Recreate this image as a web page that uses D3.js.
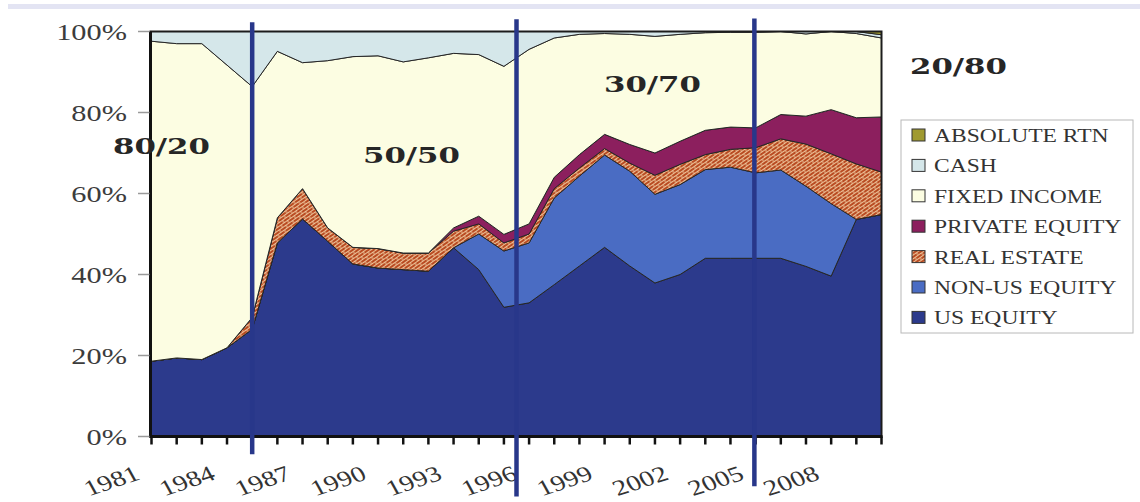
<!DOCTYPE html>
<html><head><meta charset="utf-8">
<script src="https://cdn.jsdelivr.net/npm/d3@7/dist/d3.min.js"></script>
<style>body{margin:0;background:#fff;} svg{display:block}</style>
</head><body>
<svg id="c" width="1140" height="502"></svg>
<script>
// ---------- data ----------
const years = [1981,1982,1983,1984,1985,1986,1987,1988,1989,1990,1991,1992,1993,1994,1995,1996,1997,1998,1999,2000,2001,2002,2003,2004,2005,2006,2007,2008,2009,2010];
const usEquity       = [18.6,19.4,19.0,21.9,26.5,47.8,53.7,48.2,42.6,41.6,41.2,40.8,46.6,41.2,31.9,33.0,37.5,42.1,46.7,42.1,37.9,40.0,44.0,44.0,44.0,44.0,42.0,39.6,53.6,54.8];
const nonUsEquity    = [0,0,0,0,0,0,0,0,0,0,0,0,0,8.8,13.9,14.8,21.4,22.2,22.8,23.4,21.9,22.2,21.9,22.5,21.1,21.8,19.8,17.9,0,0];
const realEstate     = [0,0,0,0,2.9,6.2,7.5,3.3,4.1,4.8,4.1,4.5,4.1,2.5,2.0,2.2,2.3,2.0,1.6,2.0,4.7,5.0,3.7,4.4,6.2,7.7,10.4,12.3,13.7,10.5];
const privateEquity  = [0,0,0,0,0,0,0,0,0,0,0,0,0.8,1.9,2.1,2.5,2.8,3.3,3.5,4.6,5.5,5.7,6.0,5.5,4.9,6.0,6.9,10.9,11.4,13.6];
const fixedIncome    = [79.0,77.6,78.0,69.8,57.0,41.1,31.1,41.3,47.1,47.6,47.2,48.2,43.1,39.9,41.5,43.1,34.4,29.7,24.9,27.2,28.8,26.4,24.1,23.4,23.6,20.5,20.3,19.3,20.8,19.5];
const cash           = [2.4,3.0,3.0,8.3,13.6,4.9,7.7,7.2,6.2,6.0,7.5,6.5,5.4,5.7,8.6,4.4,1.6,0.7,0.5,0.7,1.2,0.7,0.3,0.2,0.2,0,0.6,0,0.5,0.8];
const absoluteReturn = [0,0,0,0,0,0,0,0,0,0,0,0,0,0,0,0,0,0,0,0,0,0,0,0,0,0,0,0,0,0.8];

const seriesNames = ["US EQUITY","NON-US EQUITY","REAL ESTATE","PRIVATE EQUITY","FIXED INCOME","CASH","ABSOLUTE RTN"];
const seriesValues = [usEquity,nonUsEquity,realEstate,privateEquity,fixedIncome,cash,absoluteReturn];
const yTicks = [0,20,40,60,80,100];
const xTickLabels = [1981,1984,1987,1990,1993,1996,1999,2002,2005,2008];
const dividerYears = [1985,1995.5,2004.95];
const regimeLabels = ["80/20","50/50","30/70","20/80"];

// ---------- styles ----------
const fills = {
  "US EQUITY":"#2c3a8c","NON-US EQUITY":"#4a6cc3","REAL ESTATE":"url(#brick)",
  "PRIVATE EQUITY":"#8c1f5e","FIXED INCOME":"#fcfde2","CASH":"#d5e7ea","ABSOLUTE RTN":"#a09a30"
};

const svg = d3.select("#c");
const defs = svg.append("defs");
const pat = defs.append("pattern").attr("id","brick").attr("width",8).attr("height",6)
  .attr("patternUnits","userSpaceOnUse").attr("patternTransform","rotate(-35)");
pat.append("rect").attr("width",8).attr("height",6).attr("fill","#b94b22");
pat.append("path").attr("d","M0,0.5H8M0,3.5H8M1,0.5V3.5M5,3.5V6.5")
  .attr("stroke","#f0cda4").attr("stroke-width",0.9).attr("fill","none");

// top lavender band
svg.append("rect").attr("x",8).attr("y",4).attr("width",1132).attr("height",5).attr("fill","#e3e4f3");

const x = d3.scaleLinear().domain([1981,2010]).range([151.5,881.5]);
const y = d3.scaleLinear().domain([0,100]).range([436.5,31.5]);

const table = years.map((yr,i)=>{
  const o={year:yr};
  seriesNames.forEach((n,k)=>o[n]=seriesValues[k][i]);
  return o;
});
const stacked = d3.stack().keys(seriesNames)(table);
const area = d3.area().x(d=>x(d.data.year)).y0(d=>y(d[0])).y1(d=>y(d[1]));

svg.append("g").selectAll("path").data(stacked).join("path")
  .attr("d",area).attr("fill",d=>fills[d.key])
  .attr("stroke","#262626").attr("stroke-width",1).attr("stroke-linejoin","round");

// frame
svg.append("rect").attr("x",x(1981)-1).attr("y",y(100)).attr("width",x(2010)-x(1981)+1).attr("height",y(0)-y(100))
  .attr("fill","none").attr("stroke","#1c1c1c").attr("stroke-width",2);
svg.append("line").attr("x1",x(1981)-1).attr("x2",x(1981)-1).attr("y1",y(100)).attr("y2",y(0)+1)
  .attr("stroke","#111").attr("stroke-width",3);
svg.append("line").attr("x1",x(1981)-2).attr("x2",x(2010)+1).attr("y1",y(0)).attr("y2",y(0))
  .attr("stroke","#111").attr("stroke-width",3);

// x ticks
svg.append("g").selectAll("line").data(years).join("line")
  .attr("x1",d=>x(d)).attr("x2",d=>x(d)).attr("y1",y(0)).attr("y2",y(0)+8)
  .attr("stroke","#111").attr("stroke-width",2.5);
// y ticks
svg.append("g").selectAll("line").data(yTicks).join("line")
  .attr("x1",138).attr("x2",x(1981)-2).attr("y1",d=>y(d)).attr("y2",d=>y(d))
  .attr("stroke","#9a9a9a").attr("stroke-width",1.5);

const serif = "'Liberation Serif','Times New Roman',serif";
// y labels
svg.append("g").selectAll("text").data(yTicks).join("text")
  .attr("transform",d=>`translate(127,${y(d)+8.5}) scale(1.32,1)`)
  .attr("text-anchor","end").attr("font-family",serif).attr("font-size",23).attr("fill","#3c3c3c")
  .text(d=>d+"%");
// x labels
svg.append("g").selectAll("text").data(xTickLabels).join("text")
  .attr("transform",d=>`translate(${x(d)-10},479) scale(1.3,1) rotate(-23)`)
  .attr("text-anchor","end").attr("font-family",serif).attr("font-size",22).attr("fill","#333")
  .text(d=>d);

// divider lines
const divExt = [[102.3,-4.4],[103,-14.8],[103.2,-12.3]];
svg.append("g").selectAll("line").data(dividerYears).join("line")
  .attr("x1",d=>x(d)).attr("x2",d=>x(d))
  .attr("y1",(d,i)=>y(divExt[i][0])).attr("y2",(d,i)=>y(divExt[i][1]))
  .attr("stroke","#28378a").attr("stroke-width",4.5);

// regime labels
const regimePos = [[113,154],[363,163],[604,92],[910,74]];
svg.append("g").selectAll("text").data(regimeLabels).join("text")
  .attr("transform",(d,i)=>`translate(${regimePos[i][0]},${regimePos[i][1]}) scale(1.4,1)`)
  .attr("font-family","'DejaVu Serif',serif").attr("font-weight","bold").attr("font-size",22)
  .attr("fill","#262626").text(d=>d);

// legend
const lg = svg.append("g");
lg.append("rect").attr("x",901).attr("y",120).attr("width",232).attr("height",213)
  .attr("fill","#fff").attr("stroke","#b8b8b8").attr("stroke-width",1);
const legendItems = seriesNames.slice().reverse();
const row = lg.selectAll("g").data(legendItems).join("g")
  .attr("transform",(d,i)=>`translate(0,${135+i*30.4})`);
row.append("rect").attr("x",912).attr("y",-6).attr("width",13).attr("height",12)
  .attr("fill",d=>fills[d]).attr("stroke","#333").attr("stroke-width",1);
row.append("text").attr("transform","translate(934,7) scale(1.24,1)")
  .attr("font-family",serif).attr("font-size",19).attr("fill","#333").text(d=>d);
</script>
</body></html>
